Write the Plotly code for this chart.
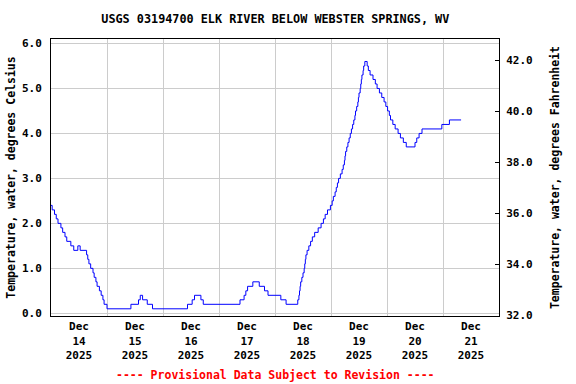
import plotly.graph_objects as go

# Change points of the 15-minute record (value holds until the next time)
times = [
    "2025-12-14 00:00", "2025-12-14 00:30", "2025-12-14 01:30", "2025-12-14 02:15",
    "2025-12-14 03:00", "2025-12-14 04:15", "2025-12-14 05:00", "2025-12-14 06:00",
    "2025-12-14 06:45", "2025-12-14 08:30", "2025-12-14 09:45", "2025-12-14 11:30",
    "2025-12-14 12:30", "2025-12-14 15:15", "2025-12-14 15:45", "2025-12-14 16:15",
    "2025-12-14 17:00", "2025-12-14 18:00", "2025-12-14 18:30", "2025-12-14 19:15",
    "2025-12-14 19:45", "2025-12-14 20:45", "2025-12-14 21:30", "2025-12-14 22:15",
    "2025-12-14 22:45", "2025-12-15 00:00",
    "2025-12-15 10:15", "2025-12-15 13:30", "2025-12-15 14:15", "2025-12-15 15:15",
    "2025-12-15 17:15", "2025-12-15 19:30",
    "2025-12-16 10:30", "2025-12-16 12:30", "2025-12-16 13:30", "2025-12-16 16:15",
    "2025-12-16 17:15",
    "2025-12-17 09:00", "2025-12-17 10:45", "2025-12-17 11:30", "2025-12-17 12:15",
    "2025-12-17 14:30", "2025-12-17 17:15", "2025-12-17 19:30", "2025-12-17 21:00",
    "2025-12-18 02:30", "2025-12-18 04:45",
    "2025-12-18 09:45", "2025-12-18 10:15", "2025-12-18 10:30", "2025-12-18 10:45",
    "2025-12-18 11:00", "2025-12-18 11:30", "2025-12-18 12:00", "2025-12-18 12:30",
    "2025-12-18 12:45", "2025-12-18 13:00", "2025-12-18 13:15", "2025-12-18 13:45",
    "2025-12-18 14:30", "2025-12-18 15:15", "2025-12-18 16:00", "2025-12-18 17:00",
    "2025-12-18 18:30", "2025-12-18 19:45", "2025-12-18 20:45", "2025-12-18 21:30",
    "2025-12-18 22:30", "2025-12-18 23:45",
    "2025-12-19 00:30", "2025-12-19 01:00", "2025-12-19 01:45", "2025-12-19 02:15",
    "2025-12-19 02:45", "2025-12-19 03:15", "2025-12-19 04:00", "2025-12-19 04:45",
    "2025-12-19 05:15", "2025-12-19 05:45", "2025-12-19 06:00", "2025-12-19 06:15",
    "2025-12-19 06:45", "2025-12-19 07:15", "2025-12-19 07:45", "2025-12-19 08:15",
    "2025-12-19 08:45", "2025-12-19 09:15", "2025-12-19 09:45", "2025-12-19 10:15",
    "2025-12-19 10:30", "2025-12-19 11:00", "2025-12-19 11:30", "2025-12-19 11:45",
    "2025-12-19 12:00", "2025-12-19 12:30", "2025-12-19 12:45", "2025-12-19 13:00",
    "2025-12-19 13:15", "2025-12-19 13:45", "2025-12-19 14:00", "2025-12-19 14:30",
    "2025-12-19 15:30", "2025-12-19 16:00", "2025-12-19 16:45", "2025-12-19 18:00",
    "2025-12-19 19:00", "2025-12-19 19:45", "2025-12-19 20:45", "2025-12-19 21:45",
    "2025-12-19 22:45", "2025-12-19 23:30",
    "2025-12-20 00:15", "2025-12-20 01:00", "2025-12-20 01:30", "2025-12-20 02:30",
    "2025-12-20 03:30", "2025-12-20 04:45", "2025-12-20 05:45", "2025-12-20 07:00",
    "2025-12-20 08:15", "2025-12-20 12:00", "2025-12-20 12:45", "2025-12-20 13:45",
    "2025-12-20 15:00", "2025-12-20 23:30",
    "2025-12-21 02:45", "2025-12-21 07:45",
]
temps_c = [
    2.4, 2.3, 2.2, 2.1,
    2.0, 1.9, 1.8, 1.7,
    1.6, 1.5, 1.4, 1.5,
    1.4, 1.3, 1.2, 1.1,
    1.0, 0.9, 0.8, 0.7,
    0.6, 0.5, 0.4, 0.3,
    0.2, 0.1,
    0.2, 0.3, 0.4, 0.3,
    0.2, 0.1,
    0.2, 0.3, 0.4, 0.3,
    0.2,
    0.3, 0.4, 0.5, 0.6,
    0.7, 0.6, 0.5, 0.4,
    0.3, 0.2,
    0.3, 0.4, 0.5, 0.6,
    0.7, 0.8, 0.9, 1.0,
    1.1, 1.2, 1.3, 1.4,
    1.5, 1.6, 1.7, 1.8,
    1.9, 2.0, 2.1, 2.2,
    2.3, 2.4,
    2.5, 2.6, 2.7, 2.8,
    2.9, 3.0, 3.1, 3.2,
    3.3, 3.4, 3.5, 3.6,
    3.7, 3.8, 3.9, 4.0,
    4.1, 4.2, 4.3, 4.4,
    4.5, 4.6, 4.7, 4.8,
    4.9, 5.0, 5.1, 5.2,
    5.3, 5.4, 5.5, 5.6,
    5.5, 5.4, 5.3, 5.2,
    5.1, 5.0, 4.9, 4.8,
    4.7, 4.6,
    4.5, 4.4, 4.3, 4.2,
    4.1, 4.0, 3.9, 3.8,
    3.7, 3.8, 3.9, 4.0,
    4.1, 4.2,
    4.3, 4.3,
]
temps_f = [c * 1.8 + 32 for c in temps_c]

title_text = "USGS 03194700 ELK RIVER BELOW WEBSTER SPRINGS, WV"
left_title = "Temperature, water, degrees Celsius"
right_title = "Temperature, water, degrees Fahrenheit"
footer_text = "---- Provisional Data Subject to Revision ----"
x_range = ["2025-12-14 00:00", "2025-12-22 00:00"]
c_ticks = [0, 1, 2, 3, 4, 5, 6]
f_ticks = [32, 34, 36, 38, 40, 42]

FONT = "DejaVu Sans Mono"
GRID = "#cccccc"

fig = go.Figure()
fig.add_trace(go.Scatter(
    x=times, y=temps_c, mode="lines", line=dict(color="#0000ff", width=1, shape="hv"),
    showlegend=False, hoverinfo="skip"))
fig.add_trace(go.Scatter(
    x=times, y=temps_f, mode="lines", line=dict(color="rgba(0,0,0,0)", width=0, shape="hv"),
    yaxis="y2", showlegend=False, hoverinfo="skip"))

fig.update_layout(
    width=576, height=384,
    margin=dict(l=51, r=77, t=39, b=68, autoexpand=False),
    paper_bgcolor="white", plot_bgcolor="white",
    font=dict(family=FONT, size=11, color="black", weight="bold"),
    title=dict(text=title_text, x=0.478, xanchor="center", y=1 - 19 / 384, yanchor="middle",
               font=dict(family=FONT, size=11.8, weight="bold", color="black")),
    xaxis=dict(
        type="date", range=x_range, dtick=86400000, tick0="2025-12-14",
        ticklabelmode="period", tickformat="%b<br>%d<br>%Y",
        showgrid=True, gridcolor=GRID, gridwidth=1, ticks="",
        showline=True, linecolor="black", linewidth=1, mirror=True, automargin=False,
        tickfont=dict(family=FONT, size=11, weight="bold"),
    ),
    yaxis=dict(
        range=[-0.06, 6.1], tickvals=c_ticks, tickformat=".1f",
        showgrid=True, gridcolor=GRID, gridwidth=1, zeroline=False,
        showline=True, linecolor="black", linewidth=1, ticks="", automargin=False,
        ticklabelstandoff=6,
        title=dict(text=left_title, font=dict(family=FONT, size=11.5, weight="bold"), standoff=3),
        tickfont=dict(family=FONT, size=11, weight="bold"),
    ),
    yaxis2=dict(
        overlaying="y", side="right", range=[31.97, 42.84], tickvals=f_ticks, tickformat=".1f",
        showgrid=False, zeroline=False, showline=True, linecolor="black", linewidth=1,
        ticks="inside", ticklen=4, tickcolor="black", ticklabelstandoff=4, automargin=False,
        title=dict(text=right_title, font=dict(family=FONT, size=11.5, weight="bold"), standoff=19),
        tickfont=dict(family=FONT, size=11, weight="bold"),
    ),
    annotations=[dict(
        text=footer_text, xref="paper", yref="paper", x=0.5, y=(316 - 375) / 277,
        xanchor="center", yanchor="middle", showarrow=False,
        font=dict(family=FONT, size=11.5, color="#ff0000", weight="bold"))],
)

fig.write_html("out.html", config={"displayModeBar": False},
               post_script="document.body.style.margin='0';document.body.style.overflow='hidden';")
